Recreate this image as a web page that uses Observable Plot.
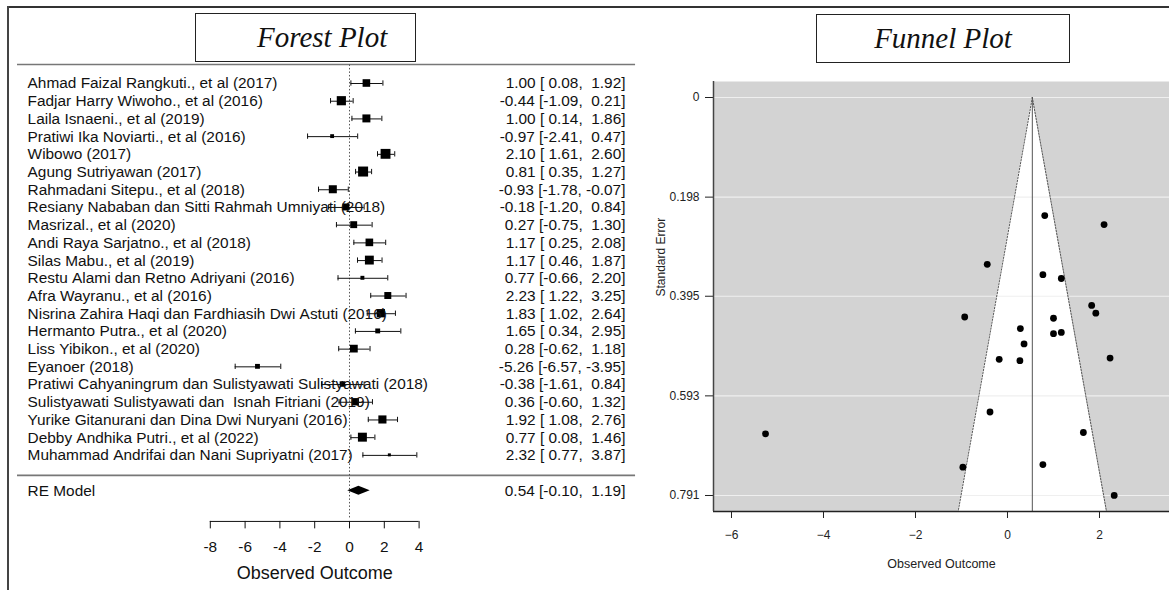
<!DOCTYPE html>
<html><head><meta charset="utf-8">
<script src="https://cdn.jsdelivr.net/npm/d3@7"></script>
<script src="https://cdn.jsdelivr.net/npm/@observablehq/plot@0.6"></script>
<style>
body{margin:0;background:#fff;}
#wrap{position:relative;width:1169px;height:590px;overflow:hidden;background:#fff;}
#frameTop{position:absolute;left:7px;top:6px;width:1170px;height:0;border-top:2px solid #333;}
#frameLeft{position:absolute;left:7px;top:6px;width:0;height:600px;border-left:2px solid #444;}
.tbox{position:absolute;border:1.5px solid #222;box-sizing:border-box;font-family:"Liberation Serif","Times New Roman",serif;font-style:italic;font-size:29px;color:#111;white-space:nowrap;}
#forest{position:absolute;left:0;top:0;}
#funnel{position:absolute;left:640px;top:0;}
</style></head>
<body><div id="wrap">
<div id="forest"></div><div id="funnel"></div>
<div id="frameTop"></div><div id="frameLeft"></div>
<div class="tbox" id="t1" style="left:195px;top:13px;width:221px;height:49px;line-height:46px;padding-left:61px;">Forest Plot</div>
<div class="tbox" id="t2" style="left:816px;top:14px;width:254px;height:49px;line-height:46px;text-align:center;">Funnel Plot</div>
</div>
<script>
const studies = [
 "Ahmad Faizal Rangkuti., et al (2017)",
 "Fadjar Harry Wiwoho., et al (2016)",
 "Laila Isnaeni., et al (2019)",
 "Pratiwi Ika Noviarti., et al (2016)",
 "Wibowo (2017)",
 "Agung Sutriyawan (2017)",
 "Rahmadani Sitepu., et al (2018)",
 "Resiany Nababan dan Sitti Rahmah Umniyati (2018)",
 "Masrizal., et al (2020)",
 "Andi Raya Sarjatno., et al (2018)",
 "Silas Mabu., et al (2019)",
 "Restu Alami dan Retno Adriyani (2016)",
 "Afra Wayranu., et al (2016)",
 "Nisrina Zahira Haqi dan Fardhiasih Dwi Astuti (2016)",
 "Hermanto Putra., et al (2020)",
 "Liss Yibikon., et al (2020)",
 "Eyanoer (2018)",
 "Pratiwi Cahyaningrum dan Sulistyawati Sulistyawati (2018)",
 "Sulistyawati Sulistyawati dan  Isnah Fitriani (2019)",
 "Yurike Gitanurani dan Dina Dwi Nuryani (2016)",
 "Debby Andhika Putri., et al (2022)",
 "Muhammad Andrifai dan Nani Supriyatni (2017)"
];
const estimate = [1.00,-0.44,1.00,-0.97,2.10,0.81,-0.93,-0.18,0.27,1.17,1.17,0.77,2.23,1.83,1.65,0.28,-5.26,-0.38,0.36,1.92,0.77,2.32];
const lower = [0.08,-1.09,0.14,-2.41,1.61,0.35,-1.78,-1.20,-0.75,0.25,0.46,-0.66,1.22,1.02,0.34,-0.62,-6.57,-1.61,-0.60,1.08,0.08,0.77];
const upper = [1.92,0.21,1.86,0.47,2.60,1.27,-0.07,0.84,1.30,2.08,1.87,2.20,3.25,2.64,2.95,1.18,-3.95,0.84,1.32,2.76,1.46,3.87];
const reModel = {label: "RE Model", est: 0.54, lb: -0.10, ub: 1.19};
const tau2 = 2.0;
const forestTicks = [-8,-6,-4,-2,0,2,4];
const funnelXTicks = [-6,-4,-2,0,2];
const funnelYTicks = [0,0.198,0.395,0.593,0.791];

const NB = "\u00A0";
const pad5 = v => { let s = v.toFixed(2); while (s.length < 5) s = " " + s; return s; };
const ciText = (e,l,u) => (e.toFixed(2) + " [" + pad5(l) + ", " + pad5(u) + "]").replace(/ /g, NB);

const rows = studies.map((s,i) => {
  const se = (upper[i]-lower[i])/3.92;
  return {label: s.replace(/ /g, NB), row: i+1, est: estimate[i], lb: lower[i], ub: upper[i], se, w: 1/(se*se+tau2)};
});
const wmin = d3.min(rows, d=>d.w), wmax = d3.max(rows, d=>d.w);
rows.forEach(d => { d.side = 3 + (d.w-wmin)/(wmax-wmin)*7; });
const reRow = 24;
const font = '"Liberation Sans", Arial, sans-serif';

// ---------- Forest ----------
const ppu = 17.4;
const forest = Plot.plot({
  width: 640, height: 590, margin: 0,
  style: {fontFamily: font, background: "transparent", color: "#111"},
  x: {domain: [-349/ppu, (640-349)/ppu], axis: null},
  y: {domain: [-3.687, 29.63], reverse: true, axis: null},
  marks: [
    Plot.ruleY([-0.073, 23.13], {x1: -19.08, x2: 16.44, stroke: "#777", strokeWidth: 1.6}),
    Plot.ruleX([0], {y1: -0.05, y2: 25.6, stroke: "#555", strokeDasharray: "1.5,2"}),
    Plot.ruleY(rows, {y: "row", x1: "lb", x2: "ub", stroke: "#111", strokeWidth: 1}),
    Plot.ruleX(rows, {x: "lb", y1: d=>d.row-0.15, y2: d=>d.row+0.15, stroke: "#111"}),
    Plot.ruleX(rows, {x: "ub", y1: d=>d.row-0.15, y2: d=>d.row+0.15, stroke: "#111"}),
    Plot.rect(rows, {x1: d=>d.est-d.side/2/ppu, x2: d=>d.est+d.side/2/ppu, y1: d=>d.row-d.side/2/17.71, y2: d=>d.row+d.side/2/17.71, fill: "#000"}),
    Plot.areaY([
      {x: reModel.lb, y1: reRow, y2: reRow},
      {x: reModel.est, y1: reRow-0.25, y2: reRow+0.25},
      {x: reModel.ub, y1: reRow, y2: reRow}
    ], {x: "x", y1: "y1", y2: "y2", fill: "#000"}),
    Plot.text(rows, {x: -18.5, y: "row", text: "label", textAnchor: "start", fontSize: 15.4, fill: "#111"}),
    Plot.text(rows, {x: 15.86, y: "row", text: d=>ciText(d.est,d.lb,d.ub), textAnchor: "end", fontSize: 15.4, fill: "#111"}),
    Plot.text([reModel], {x: -18.5, y: reRow, text: "label", textAnchor: "start", fontSize: 15.4, fill: "#111"}),
    Plot.text([reModel], {x: 15.86, y: reRow, text: d=>ciText(d.est,d.lb,d.ub), textAnchor: "end", fontSize: 15.4, fill: "#111"}),
    Plot.ruleY([25.73], {x1: -8, x2: 4, stroke: "#111"}),
    Plot.ruleX(forestTicks, {y1: 25.73, y2: 26.15, stroke: "#111"}),
    Plot.text(forestTicks, {x: d=>d, y: 27.2, text: d=>String(d), fontSize: 15.4, fill: "#111"}),
    Plot.text(["Observed Outcome"], {x: -2, y: 28.67, fontSize: 18, fill: "#111"})
  ]
});
document.getElementById("forest").appendChild(forest);

// ---------- Funnel ----------
const seMax = 0.8228, seMin = -0.0318;
const fun = [
  {se: 0, lo: reModel.est, hi: reModel.est},
  {se: seMax, lo: reModel.est - 1.96*seMax, hi: reModel.est + 1.96*seMax}
];
const funnel = Plot.plot({
  width: 529, height: 590, marginLeft: 73, marginRight: 0, marginTop: 81, marginBottom: 79,
  style: {fontFamily: font, fontSize: "12px", background: "transparent", color: "#222"},
  x: {domain: [-6.391, 3.522], ticks: funnelXTicks, tickSize: 7, tickPadding: 12, label: null},
  y: {domain: [seMin, seMax], reverse: true, ticks: funnelYTicks, tickSize: 8, tickPadding: 6, label: null,
      tickFormat: d => d === 0 ? "0" : d.toFixed(3)},
  marks: [
    Plot.frame({fill: "#d3d3d3", stroke: "none"}),
    Plot.areaX(fun, {y: "se", x1: "lo", x2: "hi", fill: "white"}),
    Plot.ruleY(funnelYTicks, {stroke: "#efefef", strokeWidth: 1.2}),
    Plot.line(fun, {x: "lo", y: "se", stroke: "#555", strokeDasharray: "1.5,1.5", strokeWidth: 1}),
    Plot.line(fun, {x: "hi", y: "se", stroke: "#555", strokeDasharray: "1.5,1.5", strokeWidth: 1}),
    Plot.ruleX([reModel.est], {y1: 0, y2: seMax, stroke: "#555", strokeWidth: 1}),
    Plot.dot(rows, {x: "est", y: "se", r: 3.4, fill: "#000", stroke: "none"}),
    Plot.ruleY([seMax], {stroke: "#222", strokeWidth: 1.5}),
    Plot.ruleX([-6.391], {stroke: "#444", strokeWidth: 1.5}),
    Plot.text(["Standard Error"], {frameAnchor: "left", rotate: -90, dx: -52, fontSize: 12, fill: "#222"}),
    Plot.text(["Observed Outcome"], {frameAnchor: "bottom", dy: 56, fontSize: 12.5, fill: "#222"})
  ]
});
document.getElementById("funnel").appendChild(funnel);
</script>
</body></html>
